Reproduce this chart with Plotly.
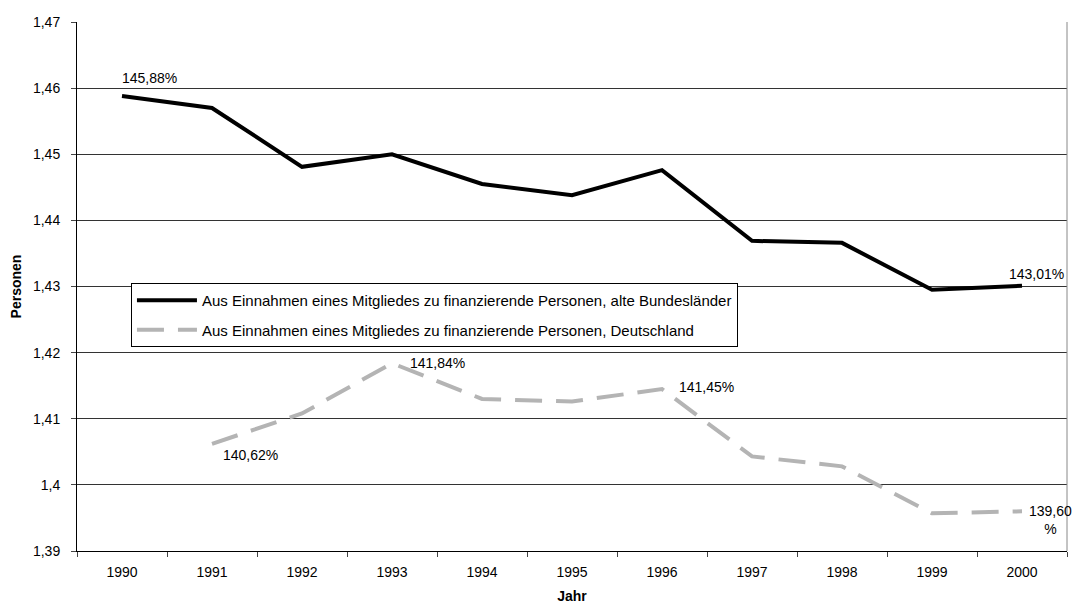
import plotly.graph_objects as go

years = ["1990", "1991", "1992", "1993", "1994", "1995", "1996", "1997", "1998", "1999", "2000"]

# Aus Einnahmen eines Mitgliedes zu finanzierende Personen
alte_laender = [1.4588, 1.4570, 1.4481, 1.4500, 1.4455, 1.4438, 1.4476, 1.4369, 1.4366, 1.4295, 1.4301]
deutschland = [None, 1.4062, 1.4108, 1.4184, 1.4130, 1.4126, 1.4145, 1.4043, 1.4028, 1.3957, 1.3960]

name_alt = "Aus Einnahmen eines Mitgliedes zu finanzierende Personen, alte Bundesländer"
name_de = "Aus Einnahmen eines Mitgliedes zu finanzierende Personen, Deutschland"

y_ticks = [1.39, 1.40, 1.41, 1.42, 1.43, 1.44, 1.45, 1.46, 1.47]
y_ticktext = ["1,39", "1,4", "1,41", "1,42", "1,43", "1,44", "1,45", "1,46", "1,47"]

# labelled points: (series, year, text)
labels = [
    ("alt", "1990", "145,88%"),
    ("alt", "2000", "143,01%"),
    ("de", "1991", "140,62%"),
    ("de", "1993", "141,84%"),
    ("de", "1996", "141,45%"),
    ("de", "2000", "139,60<br>%"),
]
# label placement (style only)
label_style = {
    ("alt", "1990"): dict(xshift=27, yshift=18),
    ("alt", "2000"): dict(xshift=14, yshift=12),
    ("de", "1991"): dict(xshift=38, yshift=-11),
    ("de", "1993"): dict(xshift=45, yshift=0),
    ("de", "1996"): dict(xshift=44, yshift=2),
    ("de", "2000"): dict(xshift=28, yshift=-9),
}

fig = go.Figure()
fig.add_trace(go.Scatter(x=years, y=alte_laender, mode="lines", name=name_alt,
                         legendgroup="a", line=dict(color="black", width=4)))
fig.add_trace(go.Scatter(x=years, y=deutschland, mode="lines", name=name_de,
                         legendgroup="b",
                         line=dict(color="#b4b4b4", width=4, dash="27px,14px")))

series = {"alt": alte_laender, "de": deutschland}
for key, yr, txt in labels:
    i = years.index(yr)
    # category axis: position annotations by category index
    fig.add_annotation(x=i, y=series[key][i], text=txt, showarrow=False,
                       font=dict(size=14, color="black"), **label_style[(key, yr)])

# page has an 8px body margin, so the figure is sized to fill the window
fig.update_layout(
    width=1074, height=596,
    paper_bgcolor="white", plot_bgcolor="white",
    font=dict(family="Liberation Sans, Arial, sans-serif", size=14, color="black"),
    margin=dict(l=69, r=15, t=14, b=53),
    showlegend=True,
    legend=dict(x=0.0545, y=0.5066, xanchor="left", yanchor="top",
                bgcolor="white", bordercolor="black", borderwidth=1,
                font=dict(size=15), tracegroupgap=7, itemwidth=60),
)
fig.update_xaxes(type="category", tickson="boundaries", ticks="outside", ticklen=5,
                 ticklabelstandoff=8, automargin=False,
                 range=[-0.5, len(years) - 0.5],
                 showline=True, linecolor="black", linewidth=1,
                 showgrid=False,
                 title=dict(text="<b>Jahr</b>", font=dict(size=14), standoff=15))
fig.update_yaxes(range=[1.39, 1.47], tickvals=y_ticks, ticktext=y_ticktext,
                 ticks="outside", ticklen=5, ticklabelstandoff=8, automargin=False,
                 showline=True, linecolor="black", linewidth=1,
                 showgrid=True, gridcolor="#333333", gridwidth=1, zeroline=False,
                 title=dict(text="<b>Personen</b>", font=dict(size=14), standoff=14))
# right border of the plot area
fig.add_shape(type="line", xref="paper", yref="paper", x0=1, x1=1, y0=0, y1=1,
              line=dict(color="#888888", width=1))

fig.write_html("out.html")
